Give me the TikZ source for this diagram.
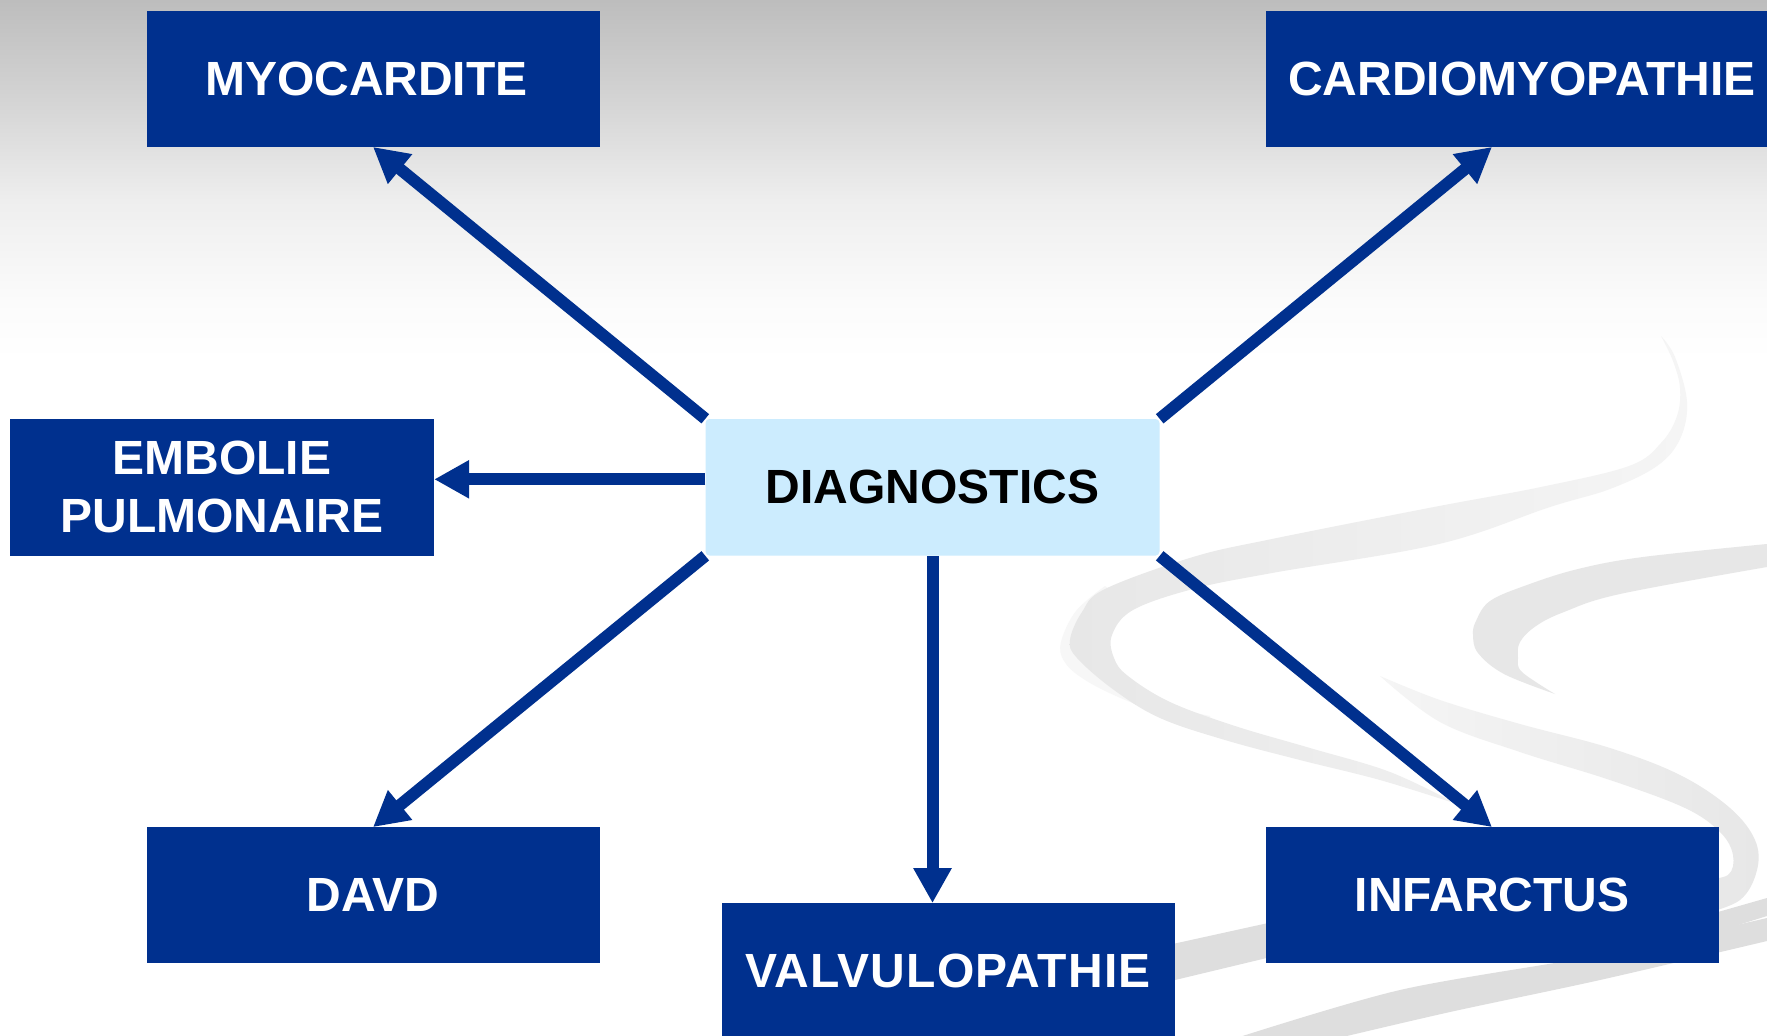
\documentclass[tikz,border=0pt]{standalone}
\usepackage{fontspec}
\setmainfont{Liberation Sans}
\usetikzlibrary{arrows.meta}

\definecolor{boxblue}{RGB}{0,48,142}
\definecolor{hubblue}{RGB}{204,236,254}
\definecolor{fadeA}{RGB}{189,189,189}
\definecolor{fadeB}{RGB}{212,212,212}
\definecolor{fadeC}{RGB}{238,238,238}
\definecolor{fadeD}{RGB}{251,251,251}
\definecolor{ribbonfaint}{RGB}{247,247,247}
\definecolor{ribbonlight}{RGB}{245,245,245}
\definecolor{ribbonmid}{RGB}{231,231,231}
\definecolor{ribbondark}{RGB}{222,222,222}

% grey fade of the page head (the path box maps to 25bp..75bp)
\pgfdeclareverticalshading{headfade}{100bp}{color(0bp)=(white); color(25bp)=(white);
  color(30bp)=(white); color(37.5bp)=(fadeD); color(50bp)=(fadeC);
  color(62.5bp)=(fadeB); color(75bp)=(fadeA); color(100bp)=(fadeA)}

\newcommand\labelfont{\fontsize{48}{58}\selectfont\bfseries}

\pgfdeclarelayer{decor}
\pgfdeclarelayer{links}
\pgfsetlayers{decor,links,main}

\begin{document}
\begin{tikzpicture}[x=1pt,y=-1pt,
  box/.style={fill=boxblue, text=white, inner sep=0pt,
    minimum width=453pt, minimum height=136pt, font=\labelfont, align=center},
  hub/.style={fill=hubblue, text=black, inner sep=0pt, rounded corners=4pt,
    minimum width=454pt, minimum height=136.6pt, font=\labelfont},
  link/.style={draw=boxblue, line width=12pt,
    -{Triangle[length=35pt,width=36pt]}}
]
\useasboundingbox (0,0) rectangle (1767,1036);

% ---- background: grey fade at the top and light swirls ----
\begin{pgfonlayer}{decor}
  \fill[white] (0,0) rectangle (1767,1036);
  \shade[shading=headfade] (0,0) rectangle (1767,400);

  % faint rim along the left curl of the large swirl
  \fill[ribbonfaint]
    plot[smooth, tension=0.6] coordinates {(1105,586) (1076,611) (1061,642) (1064,661)
      (1082,678) (1116,696) (1165,715) (1210,726)}
    -- plot[smooth, tension=0.6] coordinates {(1210,716) (1160,704) (1114,686)
      (1082,662) (1074,640) (1086,612) (1110,590)} -- cycle;

  % large swirl
  \shade[left color=ribbonmid, right color=ribbonlight]
    plot[smooth, tension=0.6] coordinates {(1661,336) (1675,357) (1687,402) (1680,439)
      (1657,466) (1610,489) (1550,507) (1439,544) (1272,573) (1193,589) (1133,610)
      (1112,635) (1114,658) (1128,676) (1170,702) (1235,726) (1310,748) (1390,772)
      (1457,804)}
    -- plot[smooth, tension=0.6] coordinates {(1457,804) (1380,780) (1300,760)
      (1225,740) (1160,718) (1114,690) (1077,658) (1070,640) (1082,612) (1105,589)
      (1193,557) (1272,539) (1434,507) (1541,487) (1629,466) (1661,443) (1677,416)
      (1680,388) (1673,361) (1661,336)} -- cycle;

  % right swirl
  \fill[ribbonmid]
    plot[smooth, tension=0.6] coordinates {(1767,544) (1643,557) (1578,569) (1527,585)
      (1490,601) (1476,621) (1473,635) (1478,653) (1504,674) (1555,694)}
    -- plot[smooth, tension=0.6] coordinates {(1555,694) (1522,672) (1518,658)
      (1520,642) (1536,626) (1564,612) (1620,594) (1767,567)} -- cycle;

  % lower swirl curling behind the right-hand box
  \shade[left color=ribbonlight, right color=ribbonmid]
    plot[smooth, tension=0.6] coordinates {(1380,676) (1440,700) (1520,724) (1610,748)
      (1680,775) (1730,808) (1755,840) (1757,870) (1740,900) (1700,915)}
    -- plot[smooth, tension=0.6] coordinates {(1700,880) (1728,875) (1733,855)
      (1720,832) (1685,808) (1610,780) (1520,752) (1440,722) (1380,676)} -- cycle;

  % band between the two lower boxes
  \fill[ribbondark] (1100,960) -- (1300,916) -- (1300,950) -- (1100,998) -- cycle;
  % short band to the right of the lower right box
  \fill[ribbondark] (1690,920) -- (1767,898) -- (1767,916) -- (1690,940) -- cycle;
  % bottom band
  \fill[ribbondark]
    plot[smooth, tension=0.5] coordinates {(1230,1040) (1400,990) (1600,955) (1767,918)}
    -- plot[smooth, tension=0.5] coordinates {(1767,941) (1600,980) (1450,1012) (1330,1040)}
    -- cycle;
\end{pgfonlayer}

% ---- boxes ----
\node[box] (myo)     at (373,78.75)    {MYOCARDITE\kern13.3pt};
\node[box, minimum width=512.4pt] (cardio) at (1521.8,78.75) {CARDIOMYOPATHIE};
\node[box, minimum width=424pt, minimum height=136.6pt] (embolie) at (222,487.3)
  {EMBOLIE\\PULMONAIRE};
\node[hub] (diag)    at (932.5,487.3)  {DIAGNOSTICS};
\node[box] (davd)    at (373,895.3)    {DAVD};
\node[box] (valvulo) at (948,971.3)
  {\addfontfeature{LetterSpace=2.5}VALVULOPATHIE};
\node[box] (infarct) at (1492,895.3)   {INFARCTUS};

\coordinate (cardioin) at (infarct.north |- cardio.south);

% ---- connectors ----
\begin{pgfonlayer}{links}
  \draw[link] (diag.north west) -- (myo.south);
  \draw[link] (diag.north east) -- (cardioin);
  \draw[link] (diag.west |- 0,479.3) -- (embolie.east |- 0,479.3);
  \draw[link] (diag.south west) -- (davd.north);
  \draw[link] (diag.south) -- (valvulo.north -| diag.south);
  \draw[link] (diag.south east) -- (infarct.north);
\end{pgfonlayer}
\end{tikzpicture}
\end{document}
